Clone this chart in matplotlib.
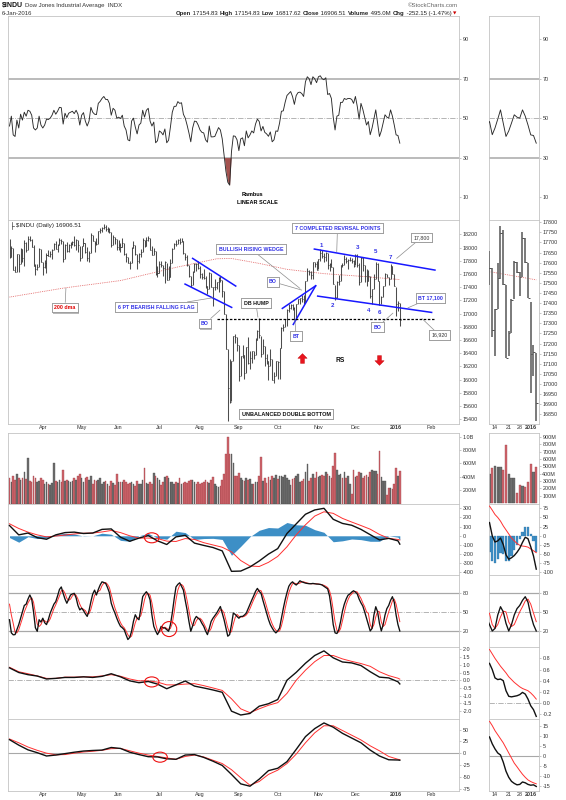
import numpy as np
import matplotlib
matplotlib.use("Agg")
import matplotlib.pyplot as plt
from matplotlib.path import Path
from matplotlib.patches import Ellipse
import matplotlib.patheffects as pe

plt.rcParams['font.family'] = ['Liberation Sans', 'DejaVu Sans']

W, H = 566, 800

# ---------------- daily data: 6 Mar 2015 .. 6 Jan 2016 (one row per month) ----------------
prior_close = 18135.7
close = [
    17856.8, 17995.7, 17662.9, 17635.4, 17895.2, 17749.3, 17977.4, 17849.1, 18076.2, 17959.0, 18127.7, 18116.0, 18011.1, 17718.5, 17678.2, 17712.7, 17976.3, 17776.1,
    17698.2, 17763.2, 17880.9, 17875.4, 17902.5, 17958.7, 18057.7, 17977.0, 18036.7, 18112.6, 18105.8, 17826.3, 18034.9, 17949.6, 18038.3, 18058.7, 18080.1, 18038.0, 18110.1, 18035.5, 17840.5,
    18024.1, 18070.4, 17928.2, 17842.0, 17924.1, 18191.1, 18105.2, 18068.2, 18060.5, 18252.2, 18272.6, 18298.9, 18312.4, 18285.4, 18285.7, 18232.0, 18041.5, 18163.0, 18126.1, 18010.7,
    18040.4, 18011.9, 18076.3, 17905.6, 17849.5, 17766.6, 17764.0, 18000.4, 18039.4, 17898.8, 17791.2, 17904.5, 17935.7, 18115.8, 18016.0, 18119.8, 18144.1, 17966.1, 17890.4, 17946.7, 17596.4, 17619.5,
    17757.9, 17730.1, 17683.6, 17776.9, 17515.4, 17548.6, 17760.4, 17977.7, 18053.6, 18050.2, 18120.3, 18086.5, 18100.4, 17919.3, 17851.0, 17731.9, 17568.5, 17440.6, 17630.3, 17751.4, 17746.0, 17689.9,
    17598.2, 17550.7, 17540.5, 17419.8, 17373.4, 17615.2, 17402.8, 17402.5, 17408.3, 17477.4, 17545.2, 17511.3, 17348.7, 16990.7, 16459.8, 15871.4, 15666.4, 16285.5, 16654.8, 16643.0, 16528.0,
    16058.4, 16351.4, 16374.8, 16102.4, 16492.7, 16253.6, 16330.4, 16433.1, 16371.0, 16599.9, 16740.0, 16674.7, 16384.6, 16510.2, 16330.5, 16279.9, 16201.3, 16314.7, 16001.9, 16049.1, 16284.7,
    16272.0, 16472.4, 16776.4, 16790.2, 16912.3, 17050.8, 17084.5, 17131.9, 17081.9, 16924.8, 17141.8, 17216.0, 17230.5, 17217.1, 17168.6, 17489.2, 17646.7, 17623.1, 17581.4, 17779.5, 17755.8, 17663.5,
    17828.8, 17918.2, 17867.6, 17863.4, 17910.3, 17730.5, 17758.2, 17702.2, 17448.1, 17245.2, 17483.0, 17489.5, 17737.2, 17732.8, 17823.8, 17792.7, 17812.2, 17813.4, 17798.5, 17719.9,
    17888.4, 17729.7, 17477.7, 17847.6, 17730.5, 17568.0, 17492.3, 17574.8, 17265.2, 17368.5, 17524.9, 17749.1, 17495.8, 17128.6, 17251.6, 17417.3, 17602.6, 17552.2, 17528.3, 17721.0, 17603.9, 17425.0,
    17148.9, 17158.7, 16906.5,
]
high = [
    18135, 18025, 17995, 17719, 17908, 17900, 17987, 17976, 18112, 18078, 18180, 18172, 18125, 18037, 17750, 17750, 17995, 17976,
    17776, 17810, 17915, 17966, 17950, 17980, 18063, 18105, 18060, 18150, 18123, 18105, 18060, 18080, 18050, 18090, 18105, 18175, 18130, 18110, 18030,
    18030, 18140, 18070, 18010, 17945, 18215, 18195, 18105, 18150, 18255, 18290, 18310, 18351, 18340, 18305, 18290, 18230, 18190, 18160, 18130,
    18110, 18070, 18140, 18075, 17920, 17850, 17800, 18010, 18095, 18035, 17895, 17920, 17980, 18140, 18120, 18160, 18180, 18140, 18020, 17990, 17945, 17720,
    17800, 17790, 17730, 17800, 17770, 17720, 17830, 17990, 18070, 18110, 18135, 18140, 18140, 18100, 17920, 17880, 17740, 17570, 17640, 17760, 17760, 17800,
    17720, 17620, 17670, 17570, 17420, 17630, 17610, 17410, 17530, 17480, 17550, 17570, 17510, 17340, 16990, 16460, 16313, 16286, 16666, 16697, 16640,
    16528, 16352, 16528, 16370, 16500, 16640, 16440, 16440, 16440, 16630, 16755, 16933, 16660, 16620, 16510, 16390, 16280, 16470, 16315, 16120, 16290,
    16285, 16475, 16800, 16838, 16920, 17070, 17140, 17140, 17150, 17100, 17150, 17220, 17235, 17275, 17280, 17500, 17690, 17660, 17640, 17780, 17780, 17800,
    17830, 17977, 17960, 17920, 17930, 17910, 17765, 17820, 17700, 17430, 17490, 17580, 17740, 17770, 17880, 17850, 17830, 17860, 17840, 17810,
    17900, 17900, 17760, 17860, 17850, 17730, 17680, 17660, 17575, 17370, 17600, 17780, 17760, 17490, 17260, 17420, 17610, 17605, 17552, 17750, 17720, 17600,
    17405, 17195, 17155,
]
low = [
    17842, 17857, 17662, 17630, 17637, 17630, 17751, 17782, 17727, 17927, 17965, 18106, 18008, 17717, 17579, 17663, 17713, 17776,
    17585, 17695, 17620, 17874, 17850, 17830, 17958, 17975, 17940, 18037, 18060, 17780, 17827, 17940, 17930, 17995, 18040, 18025, 17970, 17940, 17790,
    17841, 18025, 17920, 17790, 17780, 17925, 18100, 17930, 18040, 18060, 18220, 18240, 18280, 18250, 18230, 18220, 18010, 18040, 18060, 17970,
    17960, 17930, 18010, 17880, 17780, 17760, 17680, 17765, 18000, 17890, 17680, 17770, 17850, 17935, 18010, 18020, 18100, 17960, 17885, 17880, 17590, 17560,
    17620, 17700, 17570, 17460, 17505, 17515, 17550, 17760, 17980, 18020, 18050, 18050, 18080, 17900, 17810, 17720, 17560, 17400, 17440, 17630, 17640, 17680,
    17540, 17530, 17530, 17390, 17290, 17375, 17400, 17110, 17360, 17370, 17330, 17480, 17250, 16990, 16458, 15370, 15651, 15676, 16290, 16560, 16440,
    15980, 16060, 16330, 16014, 16100, 16230, 16160, 16245, 16320, 16370, 16600, 16630, 16340, 16385, 16210, 16240, 16000, 16200, 15990, 15950, 16050,
    16014, 16013, 16472, 16730, 16790, 16820, 17030, 17070, 17060, 16900, 16930, 17140, 17140, 17180, 17150, 17170, 17490, 17580, 17520, 17530, 17700, 17660,
    17670, 17800, 17840, 17780, 17790, 17680, 17640, 17700, 17448, 17210, 17240, 17440, 17490, 17710, 17730, 17760, 17670, 17790, 17760, 17710,
    17730, 17700, 17440, 17480, 17650, 17480, 17420, 17490, 17230, 17140, 17370, 17520, 17490, 17128, 17140, 17250, 17420, 17550, 17437, 17528, 17600, 17425,
    16957, 17038, 16818,
]
volume_m = [
    390, 330, 410, 350, 450, 380, 360, 390, 470, 370, 680, 340, 330, 420, 380, 320, 340, 380,
    360, 300, 330, 290, 285, 310, 610, 340, 320, 360, 330, 500, 340, 350, 340, 330, 340, 380, 360, 410, 440,
    380, 320, 380, 400, 360, 420, 300, 350, 340, 350, 380, 300, 330, 340, 300, 270, 340, 310, 280, 440,
    330, 320, 330, 360, 330, 300, 310, 320, 290, 270, 340, 290, 300, 350, 540, 310, 290, 320, 300, 460, 420, 390,
    360, 280, 320, 400, 420, 380, 330, 320, 300, 320, 310, 380, 290, 310, 330, 310, 340, 350, 350, 320, 290, 320,
    300, 310, 330, 360, 330, 310, 360, 400, 290, 270, 250, 270, 360, 450, 740, 1000, 740, 740, 600, 420, 410,
    460, 380, 360, 340, 380, 360, 370, 290, 300, 330, 320, 420, 700, 340, 390, 310, 400, 360, 420, 380, 430,
    370, 410, 420, 400, 430, 390, 360, 280, 370, 380, 420, 450, 330, 340, 370, 470, 590, 340, 380, 450, 380, 480,
    400, 420, 430, 410, 480, 440, 420, 380, 560, 750, 500, 430, 440, 380, 480, 390, 420, 290, 150, 500,
    400, 420, 480, 460, 380, 420, 430, 400, 480, 500, 495, 495, 450, 790, 400, 345, 335, 130, 240, 235, 215, 290,
    530, 420, 495,
]
rsi = [
    46, 51, 41.5, 40.7, 49, 45, 52, 49, 53, 51, 54, 53.5, 51.5, 45, 44, 45, 51, 46.5,
    45, 46.5, 49.5, 49.3, 50, 51.5, 54, 52, 53.5, 55.5, 55.3, 47, 52.5, 50.3, 52.5, 53, 53.5, 52.3, 54, 52, 46.5,
    51.5, 52.8, 48.5, 46, 48.5, 55.5, 53, 52, 51.8, 57.5, 58.5, 60, 61, 59.5, 59.5, 57.5, 51.5, 55, 54, 50,
    50.5, 49.8, 51.5, 46, 44, 39, 38.5, 48.5, 50, 45.5, 42, 46.5, 47.5, 54, 50.5, 54, 55, 48.5, 46, 48, 37.5, 38.5,
    43.5, 42.8, 41.5, 44.5, 37.5, 38.8, 45.5, 53, 56, 56, 58.4, 57.5, 57.8, 52, 50, 46.5, 42.5, 38, 45, 48.5, 48.3, 46.5,
    44, 42.8, 42.5, 39, 37.8, 46, 40.5, 40.5, 40.7, 43, 45.2, 44, 39.5, 31, 23, 17.5, 16, 33, 41, 40.8, 39,
    33.5, 39.5, 40, 36, 43.5, 40, 41.5, 43.5, 42.5, 47, 49.5, 48.3, 43.5, 45.8, 42.8, 42, 40.8, 43, 38, 39, 43.5,
    43.3, 47.5, 53.5, 53.7, 58, 61.5, 62.5, 63.5, 61, 57, 61.5, 63, 63.2, 62.5, 61, 68.5, 71, 70, 67, 71, 70, 68,
    71, 71.5, 70, 69.5, 70.5, 62, 62.5, 60, 50.5, 44, 51, 51.5, 58, 58, 60, 59.5, 60, 60, 59.5, 57.5,
    61, 56, 49.5, 57.5, 54.5, 50.5, 46.5, 48.3, 41.6, 45, 49.5, 54.2, 47.5, 40.7, 43.5, 47.5, 51.7, 50.5, 50, 54.2, 51, 46.5,
    41.5, 41.2, 37.3,
]
stoch_k = [
    37.6, 17, 14, 14.3, 22, 30, 40, 50, 60, 62, 70, 76.4, 70, 50, 25, 19.5, 37.6, 34,
    40, 33, 30, 38, 48, 55, 62, 66, 75, 85, 89, 79, 70, 63.5, 70, 76.4, 78, 79, 72, 60, 53,
    55.7, 52, 47, 42.8, 52, 66, 78, 84, 76.4, 85, 92, 97, 96, 94.5, 88, 80, 63.5, 55, 48, 40,
    33, 27.3, 25, 22, 14, 6.6, 10, 19.5, 35, 45.4, 40, 37.6, 55, 73.8, 78, 81.5, 77, 68.6, 45, 27.3, 20, 14.3,
    20, 27.3, 25, 24.7, 22, 19.5, 30, 48, 70, 89, 93, 95.5, 90, 84, 68, 53, 35, 19.5, 28, 38, 42.8, 40,
    37.6, 32, 27.3, 20, 14.3, 24, 35, 40, 44, 48, 53, 58.3, 48, 37.6, 25, 11.8, 14.3, 30, 48, 46, 42.8,
    40, 42.8, 42.8, 45, 48, 55, 62, 68.6, 75, 82, 86.7, 82, 79, 68, 58, 48, 38, 30, 24.7, 20, 17,
    20, 24.7, 40, 55, 68.6, 80, 90, 94.5, 97, 94, 92, 95, 98.6, 97, 96, 95, 94.5, 94, 94, 94.5, 94, 93.5,
    93.4, 93, 92, 90, 88, 86, 75, 55, 30, 17, 16, 22, 35, 51, 62, 70, 76, 78, 81, 83,
    81, 78, 70, 64, 59, 50, 40, 30, 20, 24, 45, 58, 50, 32, 20, 30, 45, 55, 60, 68, 73.7, 65,
    45, 30, 20,
]
stoch_d = [
    62, 45, 32, 18, 17, 22, 31, 40, 50, 57, 64, 69, 72, 65, 48, 31, 27, 30,
    37, 36, 34, 34, 39, 47, 55, 61, 68, 75, 83, 84, 79, 71, 68, 70, 75, 78, 76, 70, 62,
    56, 54, 52, 47, 47, 54, 65, 76, 79, 82, 84, 91, 95, 96, 93, 88, 77, 66, 56, 48,
    40, 33, 28, 25, 20, 14, 10, 12, 22, 33, 40, 41, 44, 55, 69, 78, 79, 76, 64, 47, 31, 21,
    18, 21, 24, 26, 24, 22, 24, 32, 49, 69, 84, 92, 93, 90, 81, 68, 52, 36, 28, 29, 36, 40,
    40, 37, 32, 26, 20, 19, 24, 33, 40, 44, 48, 53, 53, 48, 37, 25, 17, 19, 31, 41, 46,
    43, 42, 42, 43, 45, 49, 55, 62, 69, 75, 81, 84, 83, 76, 68, 58, 48, 39, 31, 25, 21,
    19, 20, 28, 40, 55, 68, 80, 88, 94, 95, 94, 94, 95, 97, 97, 96, 95, 94.5, 94, 94, 94, 94,
    93.5, 93, 92.5, 91.5, 90, 88, 83, 72, 53, 34, 21, 18, 24, 36, 49, 61, 69, 75, 78, 81,
    82, 81, 76, 71, 64, 58, 50, 47.6, 30, 24, 30, 42, 51, 50, 34, 27, 30, 40, 50, 58, 67, 70,
    62, 48, 34.6,
]

# ---------------- weekly-sampled oscillators (every 5th session + last) ----------------
smooth_days = list(range(0, 211, 5)) + [211]
macd_line = [112, 10, 30, -20, -38, 10, 35, 40, 25, 30,
             70, 75, -15, -60, -25, 2, -55, -95, -12, 5,
             -80, -105, -128, -165, -388, -385, -340, -275, -200, -140,
             25, 130, 235, 282, 300, 180, 135, 115, 70, 12,
             -45, -28, -55, -91]
macd_signal = [131, 80, 40, 10, -12, -3, 8, 20, 28, 30,
               42, 58, 35, 0, -25, -25, -30, -58, -62, -30,
               -40, -75, -100, -125, -175, -270, -330, -335, -290, -225,
               -120, 10, 120, 215, 262, 245, 190, 150, 112, 72,
               15, -28, -40, -46]
pmo_line = [0.80, 0.50, 0.36, 0.27, 0.08, 0.12, 0.18, 0.18, 0.22, 0.18,
            0.25, 0.42, 0.22, -0.04, -0.16, -0.08, -0.25, -0.55, -0.30, -0.05,
            -0.38, -0.50, -0.63, -0.78, -2.00, -2.25, -2.15, -1.68, -1.52, -1.25,
            0.00, 0.51, 1.10, 1.60, 1.90, 1.45, 1.18, 1.12, 0.95, 0.55,
            0.20, 0.15, -0.10, -0.24]
pmo_signal = [0.84, 0.55, 0.42, 0.28, 0.12, 0.12, 0.20, 0.20, 0.22, 0.22,
              0.28, 0.36, 0.26, 0.08, -0.04, -0.04, -0.12, -0.30, -0.30, -0.25,
              -0.22, -0.35, -0.50, -0.66, -1.20, -1.85, -2.10, -1.85, -1.62, -1.45,
              -0.85, 0.00, 0.65, 1.20, 1.60, 1.60, 1.38, 1.22, 1.08, 0.90,
              0.55, 0.30, 0.13, 0.07]
kst_line = [28.6, 17, 7, 1, -6, -4, -1, 2, 4.5, 5.7,
            6.5, 12, 10, 2, -3, -7.5, -8, -12, -13, -4,
            -3, -9, -17, -26, -45, -65, -70, -55, -37, -32,
            -18, 8, 35, 52, 64, 55, 42, 32, 22, 6.5,
            -6, -14, -14.5, -15]
kst_signal = [30, 22, 13, 6, 0, -3.5, -3, 0, 2.5, 4,
              6, 9.5, 10, 5, 0, -4, -7, -10, -13, -7,
              -4, -8, -15, -22, -35, -52, -68, -60, -45, -36,
              -22, -2, 22, 43, 58, 58, 48, 38, 28, 15.5,
              5, -7, -13, -13.7]

# 200-day moving average
dma_days = [0, 30, 60, 90, 112, 120, 135, 150, 170, 190, 211]
dma_values = [17250, 17390, 17500, 17700, 17830, 17835, 17760, 17670, 17605, 17565, 17515]

# ---------------- daily oscillators of the short-term chart (10 Dec 2015 .. 6 Jan 2016) ----------------
zoom_macd = [36, 0, -17, -14, -6, -24, -52, -64, -60, -54, -45, -34, -18, -4, -8, -30, -55, -91]
zoom_macd_signal = [81, 70, 58, 50, 40, 27, 16, 5, -6, -14, -21, -26, -28, -29, -31, -36, -41, -46]
zoom_pmo = [0.71, 0.60, 0.45, 0.42, 0.43, 0.40, 0.22, 0.12, 0.11, 0.12, 0.13, 0.15, 0.19, 0.16, 0.07, -0.05, -0.12, -0.24]
zoom_pmo_signal = [0.96, 0.88, 0.80, 0.73, 0.66, 0.60, 0.54, 0.47, 0.42, 0.37, 0.33, 0.29, 0.26, 0.24, 0.22, 0.18, 0.13, 0.07]
zoom_kst = [9.4, 6, 3.5, 1.5, 0.5, -3, -7.5, -10.5, -12.5, -13.5, -14.2, -14, -12.8, -13.2, -14, -14.4, -14.2, -15]
zoom_kst_signal = [17.1, 15, 12.5, 10.5, 8.5, 6.5, 4, 1.5, -1, -3.5, -5.3, -7.2, -9, -10.5, -11.8, -12.6, -13.2, -13.7]

# ---------------- axis labels ----------------
month_pos = [18, 39, 59, 81, 103, 124, 145, 167, 187, 209, 228]
month_labels = ['Apr', 'May', 'Jun', 'Jul', 'Aug', 'Sep', 'Oct', 'Nov', 'Dec', '2016', 'Feb']
zoom_tick_pos = [196, 201, 205, 209]
zoom_tick_labels = ['14', '21', '28', '2016']

# ---------------- derived arrays ----------------
days = np.arange(len(close))
close_a = np.array(close)
high_a = np.array(high)
low_a = np.array(low)
vol_a = np.array(volume_m)
rsi_a = np.array(rsi)
prev_close = np.concatenate([[prior_close], close_a[:-1]])
down = close_a < prev_close
sd = np.array(smooth_days)
macd_hist = np.array(macd_line) - np.array(macd_signal)
zoom_days = days[-len(zoom_macd):]
zoom_hist = np.array(zoom_macd) - np.array(zoom_macd_signal)

# ---------------- layout ----------------
fig = plt.figure(figsize=(W / 100, H / 100), dpi=100)
fig.patch.set_facecolor('white')

MAIN_X = (8.3, 459.0)
ZOOM_X = (489.0, 539.0)
ROWS = {
    'rsi': (15.7, 220.0), 'price': (220.0, 424.0), 'vol': (432.7, 504.0),
    'macd': (504.0, 575.0), 'sto': (575.0, 647.0), 'pmo': (647.0, 718.5),
    'kst': (718.5, 790.7),
}


def rect(xs, ys):
    x0, x1 = xs
    y0, y1 = ys
    return [x0 / W, 1 - y1 / H, (x1 - x0) / W, (y1 - y0) / H]


GRID = '#a8a8a8'
SPINE = '#c4c4c4'
RED = '#ff3030'
BLACK = '#111111'
BLUE_T = '#3232e6'
FS_TICK = 3.9


def style(ax, ylim, ticks, labels, xlim):
    ax.set_xlim(*xlim)
    ax.set_ylim(*ylim)
    ax.yaxis.tick_right()
    ax.set_yticks(ticks)
    ax.set_yticklabels(labels)
    ax.tick_params(axis='y', labelsize=FS_TICK, length=1.6, width=0.4, color='#999999',
                   pad=0.8, labelcolor='#333333')
    ax.tick_params(axis='x', length=0, labelsize=FS_TICK, pad=0.8, labelcolor='#333333')
    ax.set_xticks([])
    for s in ax.spines.values():
        s.set_color(SPINE)
        s.set_linewidth(0.6)


def date_axis(ax, pos, labels):
    ax.set_xticks(pos)
    ax.set_xticklabels(labels)
    for t in ax.get_xticklabels():
        if t.get_text() == '2016':
            t.set_fontweight('bold')


main_xlim = (-0.65, 243.0)
zoom_xlim = (193.82, 212.0)

axes = {}
for key, ys in ROWS.items():
    axes[key] = (fig.add_axes(rect(MAIN_X, ys)), fig.add_axes(rect(ZOOM_X, ys)))

# ---------------- RSI ----------------
for ax, xl in zip(axes['rsi'], (main_xlim, zoom_xlim)):
    style(ax, (-1.7, 102), [10, 30, 50, 70, 90], ['10', '30', '50', '70', '90'], xl)
    ax.axhline(70, color=GRID, lw=1.1, zorder=1)
    ax.axhline(30, color=GRID, lw=1.1, zorder=1)
    ax.axhline(50, color=GRID, lw=0.6, ls='-.', zorder=1)
    ax.fill_between(days, rsi_a, 30, where=rsi_a < 30, interpolate=True, color='#a4524f', lw=0, zorder=2)
    ax.plot(days, rsi_a, color='#2a2a2a', lw=0.65, zorder=3)
ax_rsi = axes['rsi'][0]
ax_rsi.text(131.6, 11.4, 'Rambus', fontsize=4.0, fontweight='bold', ha='center', va='center')
ax_rsi.text(134.2, 7.2, 'LINEAR SCALE', fontsize=4.0, fontweight='bold', ha='center', va='center')

# ---------------- price ----------------
ax_p, ax_pz = axes['price']
style(ax_p, (15329, 18417), list(range(15400, 18201, 200)),
      [str(v) for v in range(15400, 18201, 200)], main_xlim)
style(ax_pz, (16802, 17811), list(range(16850, 17801, 50)),
      [str(v) for v in range(16850, 17801, 50)], zoom_xlim)
for ax, lw, col in ((ax_p, 0.75, '#4d4d4d'), (ax_pz, 1.3, '#707070')):
    ax.plot(dma_days, dma_values, color='#e05a5a', lw=0.6, ls=(0, (1, 1.2)), zorder=2)
    ax.vlines(days, low_a, high_a, colors=col, lw=lw, zorder=3)
    ax.hlines(close_a, days, days + 0.55, colors='#333333', lw=0.6, zorder=3)
date_axis(ax_p, month_pos, month_labels)
date_axis(ax_pz, zoom_tick_pos, zoom_tick_labels)

# chart title inside the price panel
ax_p.text(0.018, 0.985, '$INDU (Daily) 16906.51', transform=ax_p.transAxes, fontsize=4.4,
          ha='left', va='top', color='#222222')
ax_p.plot([0.008, 0.008], [0.955, 0.99], transform=ax_p.transAxes, color='#444', lw=0.5)
ax_p.plot([0.008, 0.013], [0.972, 0.972], transform=ax_p.transAxes, color='#444', lw=0.5)

# trend lines
TL = '#1818ff'
ax_p.plot([99, 122.3], [17836, 17417], color=TL, lw=1.1, zorder=4)
ax_p.plot([94.9, 120.1], [17447, 17094], color=TL, lw=1.1, zorder=4)
ax_p.plot([147.5, 165.5], [17079, 17421], color=TL, lw=1.1, zorder=4)
ax_p.plot([153.4, 165.5], [16836, 17421], color=TL, lw=1.1, zorder=4)
ax_p.plot([164.8, 230], [17977, 17659], color=TL, lw=1.1, zorder=4)
ax_p.plot([166.6, 228.2], [17265, 17018], color=TL, lw=1.1, zorder=4)
ax_p.hlines(16920, 112, 230, colors='black', linestyles=(0, (2, 1.3)), lw=0.9, zorder=4)

shadow = [pe.withSimplePatchShadow(offset=(0.8, -0.8), shadow_rgbFace='#9a9a9a', alpha=0.7), pe.Normal()]


def callout(text, xy_text, xy_point=None, color=BLUE_T, weight='bold', fs=3.8):
    kw = dict(ha='center', va='center', fontsize=fs, color=color, fontweight=weight, zorder=7,
              bbox=dict(boxstyle='square,pad=0.45', fc='white', ec='#8c8c8c', lw=0.5))
    if xy_point is not None:
        t = ax_p.annotate(text, xy=xy_point, xytext=xy_text,
                          arrowprops=dict(arrowstyle='-', color='#8c8c8c', lw=0.5,
                                          shrinkA=0, shrinkB=0), **kw)
    else:
        t = ax_p.text(xy_text[0], xy_text[1], text, **kw)
    t.get_bbox_patch().set_path_effects(shadow)
    return t


callout('200 dma', (30, 17091), (30.5, 17385), color='#e00000')
callout('6 PT BEARISH FALLING FLAG', (79.2, 17099), (110, 17240))
callout('BO', (105.7, 16849), (113.8, 17053))
callout('DB HUMP', (133.2, 17159), (134.3, 16945), color='#111111')
callout('BULLISH RISING WEDGE', (130.6, 17977), (157, 17382))
callout('BO', (142.4, 17482), (158, 17356))
callout('BT', (154.9, 16659), (154.3, 16902))
callout('7 COMPLETED REVRSAL POINTS', (177.3, 18291), (176.9, 17936))
callout('17,800', (222.7, 18152), (209.3, 17836), color='#333333', weight='normal')
callout('BT 17,100', (227.6, 17235), (215.4, 17088))
callout('BO', (198.9, 16796), (207.3, 17008))
callout('16,920', (232.4, 16674), (223, 16925), color='#333333', weight='normal')
callout('UNBALANCED DOUBLE BOTTOM', (149.5, 15478), None, color='#111111', fs=4.0)

for lab, x, y in (('1', 168.8, 18038), ('2', 174.5, 17130), ('3', 188, 17997), ('4', 194, 17049),
                  ('5', 198, 17947), ('6', 199.9, 17023), ('7', 205.7, 17845)):
    ax_p.text(x, y, lab, fontsize=4.4, fontweight='bold', color=BLUE_T, ha='center', va='center', zorder=6)
ax_p.text(179, 16285, 'RS', fontsize=4.8, fontweight='bold', color='#111111', ha='center', va='center')

arrow_up = Path([(0, 1), (0.95, 0.05), (0.4, 0.05), (0.4, -1), (-0.4, -1), (-0.4, 0.05), (-0.95, 0.05), (0, 1)],
                closed=True)
arrow_dn = Path([(x, -y) for x, y in arrow_up.vertices], closed=True)
ax_p.plot([158], [16321], marker=arrow_up, ms=7, color='#e8141e', mec='#c00000', mew=0.3, ls='none', zorder=6)
ax_p.plot([199.7], [16296], marker=arrow_dn, ms=7, color='#e8141e', mec='#c00000', mew=0.3, ls='none', zorder=6)

# ---------------- volume ----------------
ax_v, ax_vz = axes['vol']
style(ax_v, (-5, 1060), [200, 400, 600, 800, 1000], ['200M', '400M', '600M', '800M', '1.0B'], main_xlim)
style(ax_vz, (-14, 959), list(range(100, 901, 100)), ['%dM' % v for v in range(100, 901, 100)], zoom_xlim)
vcol = np.where(down, '#d0666d', '#6e6e6e')
vedge = np.where(down, '#9a3c42', '#474747')
for ax, w in ((ax_v, 0.86), (ax_vz, 0.86)):
    ax.bar(days, vol_a, width=w, color=vcol, edgecolor=vedge, linewidth=0.25, zorder=2)

# ---------------- MACD ----------------
ax_m, ax_mz = axes['macd']
style(ax_m, (-428, 347), list(range(-400, 301, 100)), [str(v) for v in range(-400, 301, 100)], main_xlim)
style(ax_mz, (-107, 86.7), list(range(-100, 76, 25)), [str(v) for v in range(-100, 76, 25)], zoom_xlim)
ax_m.fill_between(sd, macd_hist, 0, color='#3d8fc6', lw=0, zorder=2)
ax_m.plot(sd, macd_signal, color=RED, lw=0.7, zorder=3)
ax_m.plot(sd, macd_line, color=BLACK, lw=1.0, zorder=4)
ax_mz.bar(zoom_days, zoom_hist, width=0.86, color='#3d8fc6', edgecolor='#2f6f9c', linewidth=0.2, zorder=2)
ax_mz.plot(zoom_days, zoom_macd_signal, color=RED, lw=0.7, zorder=3)
ax_mz.plot(zoom_days, zoom_macd, color=BLACK, lw=1.0, zorder=4)
ax_m.add_patch(Ellipse((76.9, -22), 7.8, 109, fill=False, ec='#ee1111', lw=0.8, zorder=5))

# ---------------- stochastic ----------------
for ax, xl in zip(axes['sto'], (main_xlim, zoom_xlim)):
    style(ax, (-5.1, 107.7), [20, 50, 80], ['20', '50', '80'], xl)
    ax.axhline(80, color=GRID, lw=0.9, zorder=1)
    ax.axhline(20, color=GRID, lw=0.9, zorder=1)
    ax.axhline(50, color=GRID, lw=0.6, ls='-.', zorder=1)
    ax.plot(days, stoch_d, color=RED, lw=0.7, zorder=3)
    ax.plot(days, stoch_k, color=BLACK, lw=0.95, zorder=4)
axes['sto'][0].add_patch(Ellipse((86.3, 23), 8.2, 23.5, fill=False, ec='#ee1111', lw=0.8, zorder=5))

# ---------------- momentum oscillator ----------------
ax_o, ax_oz = axes['pmo']
style(ax_o, (-2.476, 2.15), [-2.0, -1.5, -1.0, -0.5, 0.0, 0.5, 1.0, 1.5, 2.0],
      ['%.1f' % v for v in [-2.0, -1.5, -1.0, -0.5, 0.0, 0.5, 1.0, 1.5, 2.0]], main_xlim)
style(ax_oz, (-0.278, 1.004), [-0.2, 0.0, 0.2, 0.4, 0.6, 0.8],
      ['%.1f' % v for v in [-0.2, 0.0, 0.2, 0.4, 0.6, 0.8]], zoom_xlim)
for ax in (ax_o, ax_oz):
    ax.axhline(0, color=GRID, lw=0.6, ls='-.', zorder=1)
ax_o.plot(sd, pmo_signal, color=RED, lw=0.7, zorder=3)
ax_o.plot(sd, pmo_line, color=BLACK, lw=1.0, zorder=4)
ax_oz.plot(zoom_days, zoom_pmo_signal, color=RED, lw=0.7, zorder=3)
ax_oz.plot(zoom_days, zoom_pmo, color=BLACK, lw=1.0, zorder=4)
ax_o.add_patch(Ellipse((76.9, -0.11), 7.8, 0.65, fill=False, ec='#ee1111', lw=0.8, zorder=5))

# ---------------- KST ----------------
ax_k, ax_kz = axes['kst']
style(ax_k, (-79.5, 73.4), [-75, -50, -25, 0, 25, 50], ['-75', '-50', '-25', '0', '25', '50'], main_xlim)
style(ax_kz, (-17.1, 18.5), list(range(-15, 16, 5)), [str(v) for v in range(-15, 16, 5)], zoom_xlim)
for ax in (ax_k, ax_kz):
    ax.axhline(0, color=GRID, lw=0.8, zorder=1)
ax_k.plot(sd, kst_signal, color=RED, lw=0.7, zorder=3)
ax_k.plot(sd, kst_line, color=BLACK, lw=1.0, zorder=4)
ax_kz.plot(zoom_days, zoom_kst_signal, color=RED, lw=0.7, zorder=3)
ax_kz.plot(zoom_days, zoom_kst, color=BLACK, lw=1.0, zorder=4)
ax_k.add_patch(Ellipse((81.4, -8.5), 7.8, 21.3, fill=False, ec='#ee1111', lw=0.8, zorder=5))
date_axis(ax_k, month_pos, month_labels)
date_axis(ax_kz, zoom_tick_pos, zoom_tick_labels)

# ---------------- header ----------------
def fx(px):
    return px / W


def fy(py):
    return 1 - py / H


renderer = fig.canvas.get_renderer()
t = fig.text(fx(2), fy(5.5), '$INDU', fontsize=5.0, fontweight='bold', va='center', ha='left', color='#111')
x_end = t.get_window_extent(renderer).x1
fig.text(x_end / W + 0.003, fy(5.5), 'Dow Jones Industrial Average  INDX', fontsize=4.3,
         va='center', ha='left', color='#333')
fig.text(fx(2), fy(13.2), '6-Jan-2016', fontsize=4.3, va='center', ha='left', color='#333')
fig.text(fx(458), fy(5.5), '\u00a9StockCharts.com', fontsize=4.3, va='center', ha='right', color='#666')

parts = [('Open', True), (' 17154.83 ', False), ('High', True), (' 17154.83 ', False),
         ('Low', True), (' 16817.62 ', False), ('Close', True), (' 16906.51 ', False),
         ('Volume', True), (' 495.0M ', False), ('Chg', True), (' -252.15 (-1.47%)', False)]
x = 175.3
for txt, bold in parts:
    tt = fig.text(fx(x), fy(13.2), txt, fontsize=4.3, fontweight='bold' if bold else 'normal',
                  va='center', ha='left', color='#222')
    x = tt.get_window_extent(renderer).x1 + 0.3
fig.text(fx(x + 1.0), fy(13.4), '\u25bc', fontsize=3.2, va='center', ha='left', color='#cc0000',
         family=['DejaVu Sans'])

fig.savefig('out.png', dpi=100, facecolor='white')
